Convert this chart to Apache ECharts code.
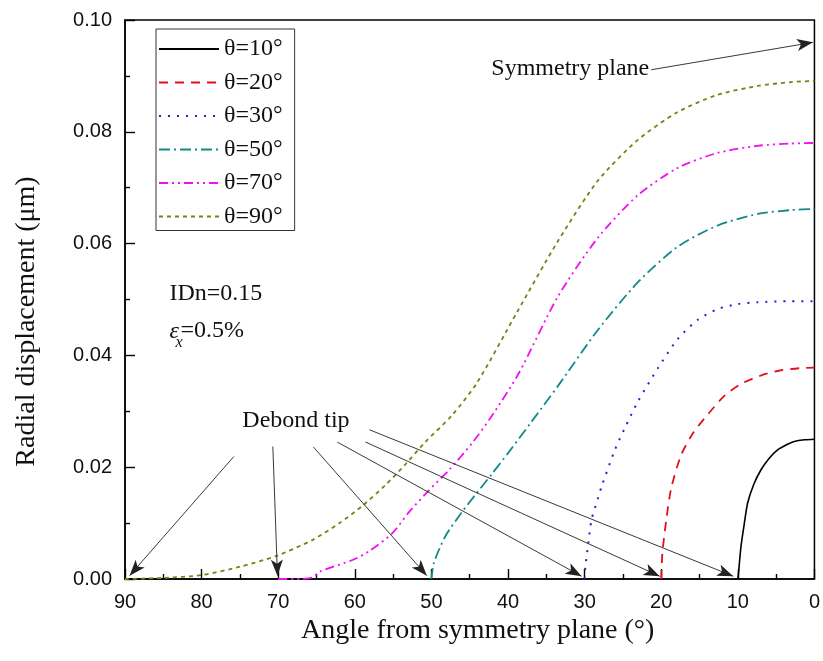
<!DOCTYPE html>
<html>
<head>
<meta charset="utf-8">
<script src="https://cdn.jsdelivr.net/npm/echarts@6/dist/echarts.min.js"></script>
<style>
  html, body { margin: 0; padding: 0; background: #ffffff; }
  #chart { width: 823px; height: 661px; }
</style>
</head>
<body>
<div id="chart"></div>
<script>
// Radial displacement along the interface, [angle from symmetry plane (deg), displacement (um)]
const theta10 = [[10,0],[9.93,0.0008],[9.59,0.0058],[9.2,0.0095],[8.72,0.0136],[7.9,0.0170],[6.99,0.0195],[5.9,0.0216],[4.81,0.0231],[3.5,0.0241],[2.64,0.0246],[1.3,0.0249],[0,0.0250]];
const theta20 = [[20,0],[19.85,0.0046],[19.3,0.0110],[18.69,0.0163],[17.39,0.0222],[15.8,0.0262],[14,0.0293],[11.8,0.0327],[9.6,0.0349],[7,0.0364],[4.5,0.0373],[2,0.0377],[0,0.0378]];
const theta30 = [[30,0],[29.9,0.0022],[29.55,0.0061],[29.1,0.0106],[28.2,0.0147],[27.8,0.0165],[26.05,0.0231],[24.75,0.0270],[23.1,0.0316],[20.4,0.0378],[17.8,0.0430],[15.2,0.0464],[12.6,0.0483],[10,0.0492],[7.4,0.0495],[3,0.0497],[0,0.0497]];
const theta50 = [[50,0],[49.7,0.0028],[48.2,0.0076],[46,0.0120],[44.3,0.0150],[42.1,0.0188],[39.9,0.0227],[36.9,0.0282],[33.5,0.0345],[28.3,0.0445],[23.1,0.0530],[17.9,0.0594],[12.7,0.0632],[7.4,0.0653],[3,0.0660],[0,0.0662]];
const theta70 = [[70,0],[67,0],[65.5,0.0003],[64.6,0.0013],[60.3,0.0034],[58.1,0.0050],[55.1,0.0082],[52.9,0.0120],[50.3,0.0159],[47.7,0.0195],[44.7,0.0243],[42.1,0.0292],[38.6,0.0368],[33.5,0.0505],[28.3,0.0610],[23.1,0.0686],[17.9,0.0735],[12.7,0.0762],[7.4,0.0775],[3,0.0779],[0,0.0780]];
const theta90 = [[90,0],[85,0.0002],[80,0.0007],[75,0.0022],[70.3,0.0041],[65.5,0.0070],[62,0.0100],[59,0.0131],[56,0.0168],[53.4,0.0205],[50.8,0.0245],[47.3,0.0293],[44,0.0352],[38.8,0.0478],[33.5,0.0604],[28.3,0.0712],[23.1,0.0785],[17.9,0.0835],[12.7,0.0866],[7.4,0.0882],[3,0.0889],[0,0.0891]];

const seriesNames = ['θ=10°','θ=20°','θ=30°','θ=50°','θ=70°','θ=90°'];
const xTickValues = [0,10,20,30,40,50,60,70,80,90];
const yTickValues = [0,0.02,0.04,0.06,0.08,0.10];

// Debond-tip arrows: [start, tip] in data coordinates
const debondArrows = [
  [[75.8,0.0219],[89.4,0.0006]],
  [[70.7,0.0237],[70.1,0.0006]],
  [[65.4,0.0236],[50.6,0.0006]],
  [[62.3,0.0245],[30.4,0.0005]],
  [[58.6,0.0245],[20.2,0.0005]],
  [[58.1,0.0267],[10.6,0.0005]]
];
const symmetryArrow = [[21.3,0.0911],[0.2,0.0960]];

const SERIF = '"Liberation Serif", "Times New Roman", serif';
const SANS = '"Liberation Sans", Arial, sans-serif';

const styles = [
  { color: '#000000', type: 'solid', width: 1.6 },
  { color: '#e3101c', type: [9, 7], width: 1.8 },
  { color: '#2323c8', type: [2, 7], width: 2 },
  { color: '#108a86', type: [11, 4, 2, 4], width: 1.8 },
  { color: '#f010f0', type: [9, 4, 2, 4, 2, 4], width: 1.8 },
  { color: '#7f7f14', type: [4, 4], width: 1.8 }
];
const dataSets = [theta10, theta20, theta30, theta50, theta70, theta90];

const chart = echarts.init(document.getElementById('chart'), null, { renderer: 'canvas' });

const series = dataSets.map((d, i) => ({
  name: seriesNames[i],
  type: 'line',
  data: d,
  symbol: 'none',
  showSymbol: false,
  smooth: 0.25,
  lineStyle: styles[i],
  itemStyle: { color: styles[i].color },
  animation: false,
  z: 3
}));

series.push({
  name: 'arrows',
  type: 'line',
  data: [],
  silent: true,
  animation: false,
  markLine: {
    silent: true,
    animation: false,
    symbol: ['none', 'arrow'],
    symbolSize: [9, 16],
    label: { show: false },
    emphasis: { disabled: true },
    lineStyle: { color: '#222222', width: 0.9, type: 'solid' },
    data: debondArrows.concat([symmetryArrow]).map(a => [{ coord: a[0] }, { coord: a[1] }])
  }
});

const tickStyle = { color: '#000000', width: 1.4 };

chart.setOption({
  backgroundColor: '#ffffff',
  animation: false,
  grid: {
    left: 125, right: 6, top: 20, bottom: 82,
    show: true, borderColor: '#000000', borderWidth: 1.5, backgroundColor: 'transparent'
  },
  legend: {
    data: seriesNames,
    orient: 'vertical',
    left: 156, top: 29,
    itemWidth: 60, itemHeight: 14, itemGap: 9.5,
    padding: [8, 12, 2, 2],
    borderColor: '#333333', borderWidth: 1,
    backgroundColor: '#ffffff',
    selectedMode: false,
    itemStyle: { opacity: 0 },
    textStyle: { fontFamily: SERIF, fontSize: 24, color: '#111111', lineHeight: 24 }
  },
  xAxis: {
    type: 'value',
    inverse: true,
    position: 'bottom',
    min: 0, max: 90, interval: 10,
    name: 'Angle from symmetry plane (°)',
    nameLocation: 'middle',
    nameGap: 36,
    nameTextStyle: { fontFamily: SERIF, fontSize: 28, color: '#111111', padding: [0, 0, 0, 16] },
    axisLine: { show: true, onZero: false, lineStyle: { color: '#000000', width: 1.5 } },
    axisTick: { show: true, inside: true, length: 10, lineStyle: tickStyle },
    minorTick: { show: true, splitNumber: 2, length: 5, lineStyle: tickStyle },
    splitLine: { show: false },
    minorSplitLine: { show: false },
    axisLabel: { show: true, fontFamily: SANS, fontSize: 20, color: '#111111', margin: 13,
      formatter: v => xTickValues.includes(v) ? String(v) : '' }
  },
  yAxis: {
    type: 'value',
    position: 'left',
    min: 0, max: 0.1, interval: 0.02,
    name: 'Radial displacement (μm)',
    nameLocation: 'middle',
    nameGap: 84,
    nameTextStyle: { fontFamily: SERIF, fontSize: 28, color: '#111111', padding: [0, 44, 0, 0] },
    axisLine: { show: true, onZero: false, lineStyle: { color: '#000000', width: 1.5 } },
    axisTick: { show: true, inside: true, length: 10, lineStyle: tickStyle },
    minorTick: { show: true, splitNumber: 2, length: 5, lineStyle: tickStyle },
    splitLine: { show: false },
    minorSplitLine: { show: false },
    axisLabel: { show: true, fontFamily: SANS, fontSize: 20, color: '#111111', margin: 13,
      formatter: v => yTickValues.some(t => Math.abs(t - v) < 1e-9) ? v.toFixed(2) : '' }
  },
  series: series
});

// Text annotations anchored to data coordinates
const px = p => chart.convertToPixel({ gridIndex: 0 }, p);
const debondPos = px([67.9, 0.0281]);
const symPos = px([32.0, 0.0911]);
const idnPos = px([84.2, 0.0508]);
const epsPos = px([84.2, 0.0443]);

const baseText = { fontFamily: SERIF, fontSize: 24, fill: '#111111' };
chart.setOption({
  graphic: [
    { type: 'text', left: debondPos[0] - 52, top: debondPos[1] - 13, silent: true,
      style: Object.assign({ text: 'Debond tip' }, baseText) },
    { type: 'text', left: symPos[0] - 78, top: symPos[1] - 13, silent: true,
      style: Object.assign({ text: 'Symmetry plane' }, baseText) },
    { type: 'text', left: idnPos[0], top: idnPos[1] - 13, silent: true,
      style: Object.assign({ text: 'IDn=0.15' }, baseText) },
    { type: 'text', left: epsPos[0], top: epsPos[1] - 12, silent: true,
      style: { text: 'ε', fontFamily: SERIF, fontSize: 24, fontStyle: 'italic', fill: '#111111' } },
    { type: 'text', left: epsPos[0] + 6, top: epsPos[1] + 3, silent: true,
      style: { text: 'x', fontFamily: SERIF, fontSize: 16, fontStyle: 'italic', fill: '#111111' } },
    { type: 'text', left: epsPos[0] + 11, top: epsPos[1] - 13, silent: true,
      style: Object.assign({ text: '=0.5%' }, baseText) }
  ]
});
</script>
</body>
</html>
